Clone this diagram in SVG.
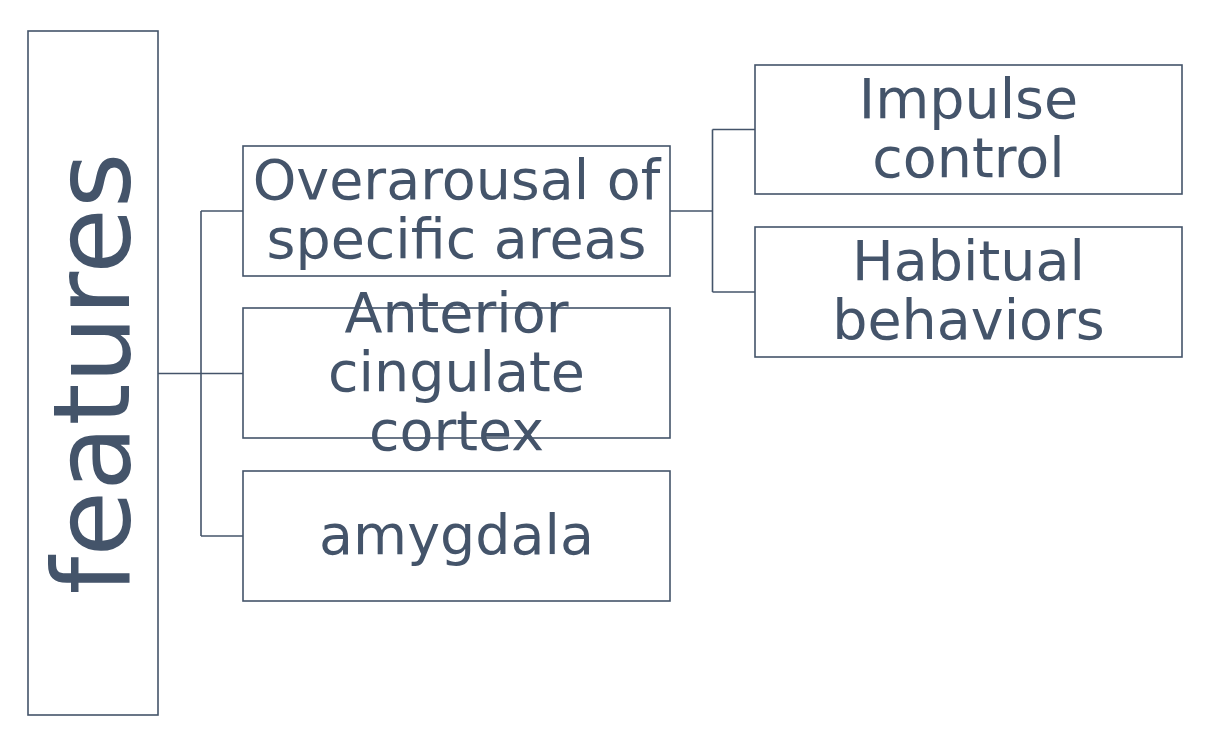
<svg xmlns="http://www.w3.org/2000/svg" width="1212" height="748" viewBox="0 0 1212 748">
<style>
.box{fill:#ffffff;stroke:#44546A;stroke-width:1.6}
.lbl{font-family:"DejaVu Sans",sans-serif;font-size:55.5px;fill:#44546A;text-anchor:middle}
.root{font-family:"DejaVu Sans",sans-serif;font-size:107px;fill:#44546A;text-anchor:middle}
.con{fill:none;stroke:#44546A;stroke-width:1.6}
</style>
<rect width="1212" height="748" fill="#ffffff"/>
<g id="connectors">
<path class="con" d="M158 373.5 H201"/>
<path class="con" d="M201 211 V536"/>
<path class="con" d="M201 211 H243"/>
<path class="con" d="M201 373.5 H243"/>
<path class="con" d="M201 536 H243"/>
<path class="con" d="M670 211 H712.5"/>
<path class="con" d="M712.5 129.5 V292"/>
<path class="con" d="M712.5 129.5 H755"/>
<path class="con" d="M712.5 292 H755"/>
</g>
<g id="node-features">
<rect class="box" x="28" y="31" width="130" height="684"/>
<text class="root" transform="translate(129,373.5) rotate(-90)" x="0" y="0">features</text>
</g>
<g id="node-overarousal">
<rect class="box" x="243" y="146" width="427" height="130"/>
<text class="lbl" x="456.5" y="199">Overarousal of</text>
<text class="lbl" x="456.5" y="258">specific areas</text>
</g>
<g id="node-acc">
<rect class="box" x="243" y="308" width="427" height="130"/>
<text class="lbl" x="456.5" y="332">Anterior</text>
<text class="lbl" x="456.5" y="391">cingulate</text>
<text class="lbl" x="456.5" y="450">cortex</text>
</g>
<g id="node-amygdala">
<rect class="box" x="243" y="471" width="427" height="130"/>
<text class="lbl" x="456.5" y="554">amygdala</text>
</g>
<g id="node-impulse">
<rect class="box" x="755" y="65" width="427" height="129"/>
<text class="lbl" x="968.5" y="118">Impulse</text>
<text class="lbl" x="968.5" y="177">control</text>
</g>
<g id="node-habitual">
<rect class="box" x="755" y="227" width="427" height="130"/>
<text class="lbl" x="968.5" y="280">Habitual</text>
<text class="lbl" x="968.5" y="339">behaviors</text>
</g>
</svg>
